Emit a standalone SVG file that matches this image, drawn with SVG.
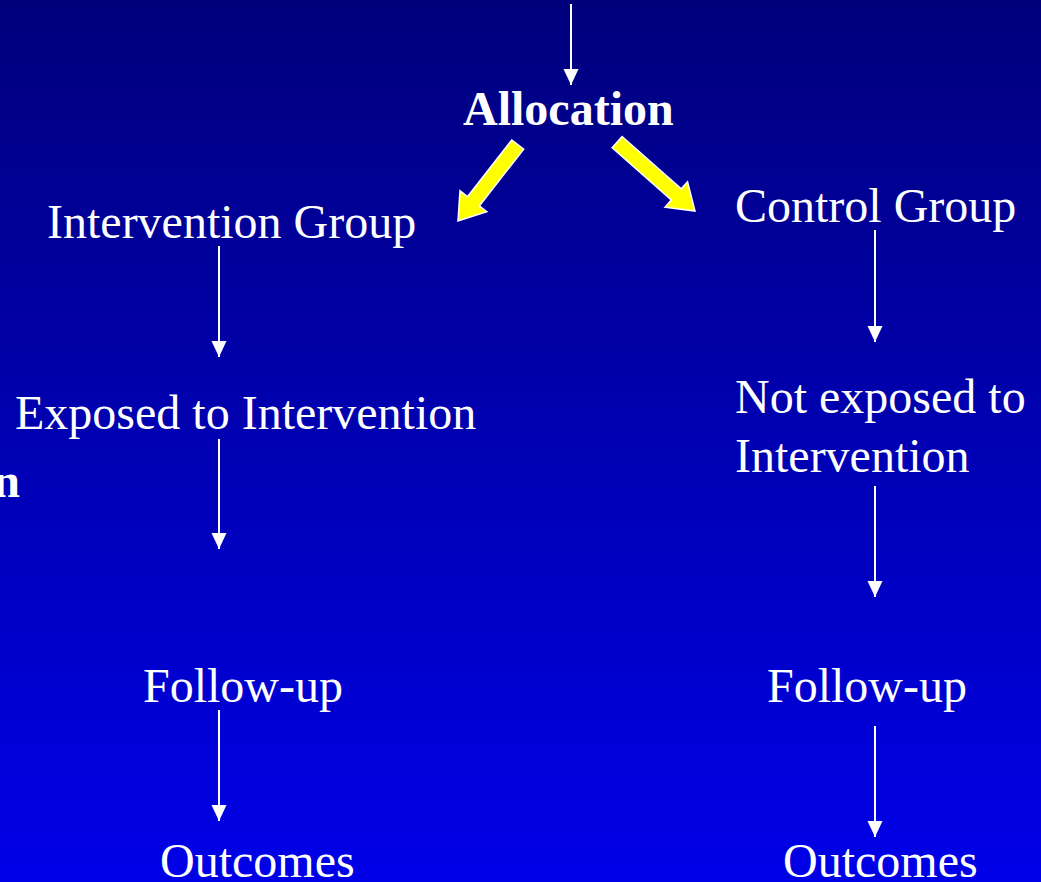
<svg xmlns="http://www.w3.org/2000/svg" width="1041" height="882" viewBox="0 0 1041 882">
  <defs>
    <linearGradient id="bg" x1="0" y1="0" x2="0" y2="1">
      <stop offset="0" stop-color="#00007c"/>
      <stop offset="1" stop-color="#0000e8"/>
    </linearGradient>
    <marker id="head" viewBox="0 0 16 16" refX="16" refY="8" markerWidth="16" markerHeight="16" markerUnits="userSpaceOnUse" orient="auto">
      <path d="M0,0.5 L16,8 L0,15.5 Z" fill="#ffffff"/>
    </marker>
  </defs>
  <style>
    .t { font-family: "Liberation Serif", "Times New Roman", serif; font-size: 48px; fill: #ffffff; }
    .b { font-weight: bold; }
    .flow line { stroke: #ffffff; stroke-width: 2; marker-end: url(#head); }
    .yel { fill: #ffff00; stroke: #ffffff; stroke-width: 1.5; stroke-linejoin: miter; }
  </style>

  <rect width="1041" height="882" fill="url(#bg)"/>

  <!-- connectors -->
  <g id="connectors" class="flow">
    <line x1="571" y1="4" x2="571" y2="85"/>
    <line x1="219" y1="246" x2="219" y2="357"/>
    <line x1="219" y1="439" x2="219" y2="549"/>
    <line x1="219" y1="710" x2="219" y2="821"/>
    <line x1="875" y1="230" x2="875" y2="342"/>
    <line x1="875" y1="486" x2="875" y2="597"/>
    <line x1="875" y1="726" x2="875" y2="837"/>
    <!-- yellow block arrows, drawn along +x with the tip at the origin -->
    <g id="split-left" transform="translate(458,221) rotate(128)">
      <path class="yel" d="M-97,-7.5 L-25,-7.5 L-25,-17 L0,0 L-25,17 L-25,7.5 L-97,7.5 Z"/>
    </g>
    <g id="split-right" transform="translate(695,211) rotate(41.5)">
      <path class="yel" d="M-104,-7.5 L-25,-7.5 L-25,-17 L0,0 L-25,17 L-25,7.5 L-104,7.5 Z"/>
    </g>
  </g>

  <!-- nodes -->
  <g id="allocation"><text class="t b" x="463" y="125">Allocation</text></g>
  <g id="partial-label"><text class="t b" x="20" y="497" text-anchor="end">n</text></g>

  <g id="intervention-group"><text class="t" x="47" y="238">Intervention Group</text></g>
  <g id="exposed"><text class="t" x="15" y="429">Exposed to Intervention</text></g>
  <g id="followup-left"><text class="t" x="143" y="702">Follow-up</text></g>
  <g id="outcomes-left"><text class="t" x="160" y="877">Outcomes</text></g>

  <g id="control-group"><text class="t" x="735" y="222">Control Group</text></g>
  <g id="not-exposed">
    <text class="t" x="735" y="413">Not exposed to</text>
    <text class="t" x="735" y="472">Intervention</text>
  </g>
  <g id="followup-right"><text class="t" x="767" y="702">Follow-up</text></g>
  <g id="outcomes-right"><text class="t" x="783" y="877">Outcomes</text></g>
</svg>
